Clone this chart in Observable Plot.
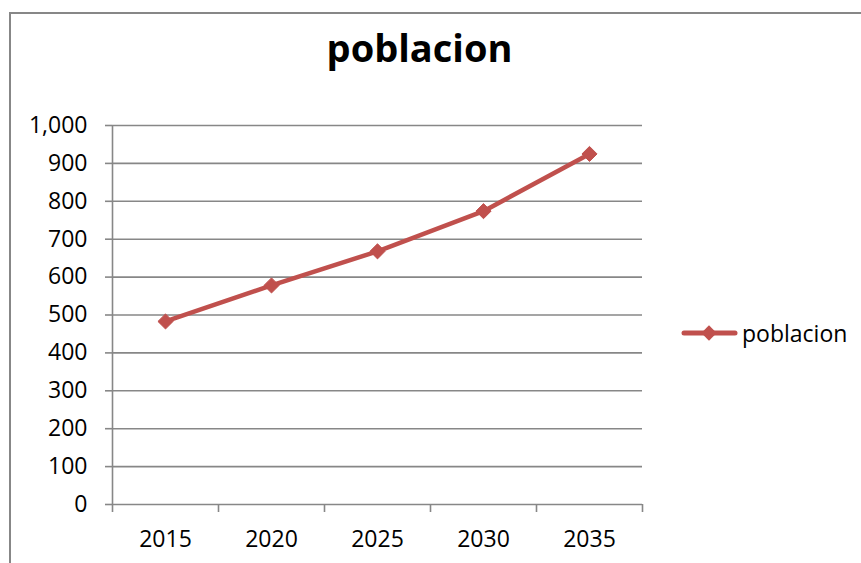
<!DOCTYPE html>
<html>
<head>
<meta charset="utf-8">
<script src="https://cdn.jsdelivr.net/npm/d3@7"></script>
<script src="https://cdn.jsdelivr.net/npm/@observablehq/plot@0.6"></script>
<style>
  html, body { margin: 0; padding: 0; background: #fff; overflow: hidden; }
  body { width: 861px; height: 563px; position: relative; font-family: "Open Sans", sans-serif; }
  #frame { position: absolute; left: 9px; top: 12px; width: 900px; height: 600px; border: 2px solid #878787; box-sizing: border-box; }
  #chart { position: absolute; left: 0; top: 0; }
  #overlay { position: absolute; left: 0; top: 0; pointer-events: none; }
</style>
</head>
<body>
<div id="frame"></div>
<div id="chart"></div>
<svg id="overlay" width="861" height="563"></svg>
<script>
const title = "poblacion";
const seriesName = "poblacion";
const years = ["2015", "2020", "2025", "2030", "2035"];
const values = [483, 578, 668, 774, 925];
const yTicks = [0, 100, 200, 300, 400, 500, 600, 700, 800, 900, 1000];

const lineColor = "#C0504D";
const gridColor = "#878787";

const data = years.map((y, i) => ({year: y, idx: i + 0.5, value: values[i]}));
const boundaries = d3.range(years.length + 1);
const centers = years.map((_, i) => i + 0.5);

const chart = Plot.plot({
  width: 861,
  height: 563,
  marginLeft: 112,
  marginRight: 219,
  marginTop: 125,
  marginBottom: 59,
  style: {fontFamily: "Open Sans, sans-serif", background: "transparent", color: "#000"},
  x: {type: "linear", domain: [0, years.length], axis: null, label: null},
  y: {type: "linear", domain: [0, 1000], axis: null, label: null},
  marks: [
    Plot.ruleY(yTicks, {stroke: gridColor, strokeWidth: 1.6}),
    Plot.ruleX([0], {stroke: gridColor, strokeWidth: 1.6}),
    Plot.axisY({
      ticks: yTicks, tickFormat: d3.format(","), tickSize: 7, tickPadding: 18,
      stroke: gridColor, strokeWidth: 1.6, fill: "#000", fontSize: 23, label: null
    }),
    Plot.axisX({
      ticks: boundaries, tickFormat: () => "", tickSize: 8,
      stroke: gridColor, strokeWidth: 1.6, label: null
    }),
    Plot.axisX({
      ticks: centers, tickFormat: d => years[Math.floor(d)], tickSize: 0, tickPadding: 26,
      fill: "#000", fontSize: 23, label: null
    }),
    Plot.line(data, {x: "idx", y: "value", stroke: lineColor, strokeWidth: 4.5, strokeLinejoin: "round", strokeLinecap: "round"}),
    Plot.dot(data, {x: "idx", y: "value", symbol: "diamond2", r: 6.8, fill: lineColor, stroke: lineColor, strokeWidth: 1})
  ]
});
document.getElementById("chart").appendChild(chart);

// Title and legend
const ov = d3.select("#overlay");
ov.append("text")
  .attr("x", 419.5).attr("y", 62)
  .attr("text-anchor", "middle")
  .attr("font-family", "Open Sans, sans-serif")
  .attr("font-weight", "bold")
  .attr("font-size", 38)
  .attr("fill", "#000")
  .text(title);

const lg = ov.append("g");
lg.append("line")
  .attr("x1", 684).attr("x2", 735).attr("y1", 333).attr("y2", 333)
  .attr("stroke", lineColor).attr("stroke-width", 5).attr("stroke-linecap", "round");
lg.append("path")
  .attr("transform", "translate(709,333)")
  .attr("d", d3.symbol(d3.symbolDiamond2, 150)())
  .attr("fill", lineColor);
lg.append("text")
  .attr("x", 742).attr("y", 342)
  .attr("font-family", "Open Sans, sans-serif")
  .attr("font-size", 23)
  .attr("fill", "#000")
  .text(seriesName);
</script>
</body>
</html>
